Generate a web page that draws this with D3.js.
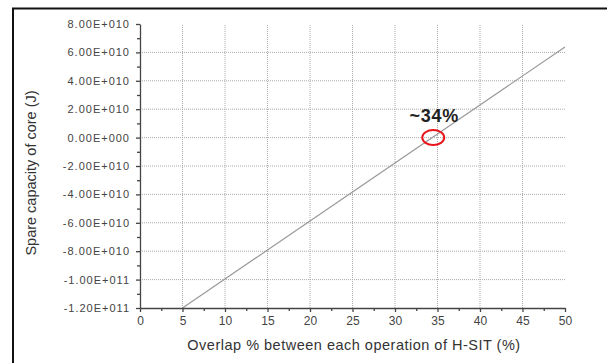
<!DOCTYPE html>
<html><head><meta charset="utf-8">
<script src="https://cdn.jsdelivr.net/npm/d3@7"></script>
<style>body{margin:0;background:#fff;}svg{display:block;}</style>
</head><body>
<svg id="c" width="607" height="363"></svg>
<script>
const xTicks = [0,5,10,15,20,25,30,35,40,45,50];
const yTicks = [8e10,6e10,4e10,2e10,0,-2e10,-4e10,-6e10,-8e10,-1e11,-1.2e11];
const yTickLabels = ["8.00E+010","6.00E+010","4.00E+010","2.00E+010","0.00E+000","-2.00E+010","-4.00E+010","-6.00E+010","-8.00E+010","-1.00E+011","-1.20E+011"];
const overlap = [5, 50];
const spare = [-1.2e11, 6.38e10];
const annotationX = [34.5];
const annotationY = [0];
const annotationText = ["~34%"];

const svg = d3.select("#c");
const x = d3.scaleLinear().domain([0,50]).range([140,565]);
const y = d3.scaleLinear().domain([-1.2e11,8e10]).range([308,24]);
const font = "Liberation Sans, Arial, sans-serif";

// outer frame
svg.append("rect").attr("x",13).attr("y",8.5).attr("width",620).attr("height",400)
  .attr("fill","none").attr("stroke","#111").attr("stroke-width",2);

// grid
const g = svg.append("g");
g.selectAll(".vg").data(xTicks.filter(d=>d>0&&d<50)).enter().append("line")
  .attr("x1",d=>x(d)).attr("x2",d=>x(d)).attr("y1",y(-1.2e11)).attr("y2",y(8e10))
  .attr("stroke","#aaa").attr("stroke-width",1).attr("stroke-dasharray","1,1");
g.selectAll(".hg").data(yTicks.filter(d=>d>-1.2e11&&d<8e10)).enter().append("line")
  .attr("y1",d=>y(d)).attr("y2",d=>y(d)).attr("x1",x(0)).attr("x2",x(50))
  .attr("stroke","#aaa").attr("stroke-width",1).attr("stroke-dasharray","1,1");

// data line
const line = d3.line().x((d,i)=>x(overlap[i])).y(d=>y(d));
svg.append("path").attr("d",line(spare)).attr("fill","none").attr("stroke","#999").attr("stroke-width",1.2);

// axes
const axCol = "#444";
const xAxis = svg.append("g").attr("transform",`translate(0,${y(-1.2e11)})`)
  .call(d3.axisBottom(x).tickValues(xTicks).tickSize(4).tickSizeOuter(0).tickPadding(4));
const xMinor = svg.append("g").attr("transform",`translate(0,${y(-1.2e11)})`)
  .call(d3.axisBottom(x).tickValues(d3.range(2.5,50,5)).tickSize(3).tickSizeOuter(0).tickFormat(""));
xMinor.select(".domain").remove();
const yAxis = svg.append("g").attr("transform",`translate(${x(0)},0)`)
  .call(d3.axisLeft(y).tickValues(yTicks).tickFormat((d,i)=>yTickLabels[i]).tickSize(4).tickSizeOuter(0).tickPadding(6));
const yMinor = svg.append("g").attr("transform",`translate(${x(0)},0)`)
  .call(d3.axisLeft(y).tickValues(d3.range(-1.1e11,8e10,2e10)).tickSize(3).tickSizeOuter(0).tickFormat(""));
yMinor.select(".domain").remove();
[xAxis,xMinor,yAxis,yMinor].forEach(a=>{
  a.selectAll("path,line").attr("stroke",axCol).attr("stroke-width",1.3);
  a.selectAll("text").attr("fill","#444").style("font-family",font).style("font-size","12px");
});
yAxis.selectAll("text").style("font-size","11px").style("letter-spacing","1px");

// titles
svg.append("text").attr("x",354).attr("y",350).attr("text-anchor","middle")
  .style("font-family",font).style("font-size","14.5px").style("letter-spacing","0.5px").attr("fill","#333")
  .text("Overlap % between each operation of H-SIT (%)");
svg.append("text").attr("transform","translate(36,173) rotate(-90)").attr("text-anchor","middle")
  .style("font-family",font).style("font-size","14.5px").attr("fill","#333")
  .text("Spare capacity of core (J)");

// annotation
svg.selectAll(".ann").data(annotationX).enter().append("ellipse")
  .attr("cx",d=>x(d)).attr("cy",(d,i)=>y(annotationY[i])).attr("rx",11).attr("ry",7.5)
  .attr("fill","none").attr("stroke","#e8141c").attr("stroke-width",2);
svg.selectAll(".annt").data(annotationX).enter().append("text")
  .attr("x",d=>x(d)+1).attr("y",(d,i)=>y(annotationY[i])-16).attr("text-anchor","middle")
  .style("font-family",font).style("font-size","18px").style("font-weight","bold").style("letter-spacing","0.8px").attr("fill","#222")
  .text((d,i)=>annotationText[i]);
</script>
</body></html>
